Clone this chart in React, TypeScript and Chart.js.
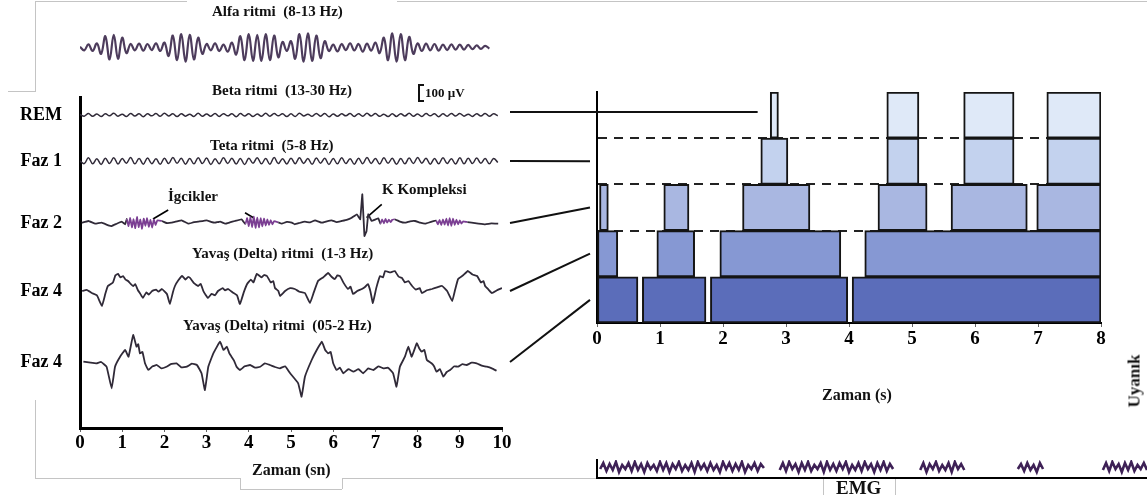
import React, { useEffect, useRef } from 'react';
import { Chart, registerables } from 'chart.js';

Chart.register(...registerables);

const SERIF = "'Liberation Serif', 'Times New Roman', Times, serif";

// ---------------- Left panel: EEG traces (time s, amplitude µV) ----------------
const eegTimeTicks = [0, 1, 2, 3, 4, 5, 6, 7, 8, 9, 10];
const eegStageLabels = ['REM', 'Faz 1', 'Faz 2', 'Faz 4', 'Faz 4'];

const alphaStep = 0.1;
const alphaValues = [5, -20, 22, -25, 30, -45, 80, -85, 90, -80, 70, -40, 25, -20, 28, -22, 25, -18, 30, -25, 35, -60, 85, -90, 95, -100, 90, -85, 70, -45, 25, -20, 30, -25, 20, -30, 35, -50, 80, -90, 95, -95, 90, -95, 95, -90, 85, -70, 40, -25, 45, -80, 95, -100, 100, -95, 85, -75, 45, -25, 20, -28, 25, -18, 30, -20, 25, -30, 28, -22, 35, -40, 70, -90, 100, -100, 95, -90, 75, -45, 30, -25, 28, -20, 25, -22, 20, -18, 22, -15, 20, -15, 18, -12, 15, -10, 12, -8];

const betaStep = 0.1;
const betaValues = [4, -8, 10, -9, 7, -11, 9, -6, 12, -8, 6, -10, 11, -7, 9, -12, 8, -6, 10, -9, 12, -7, 8, -11, 9, -8, 6, -10, 12, -9, 7, -8, 11, -10, 9, -6, 8, -12, 10, -7, 9, -11, 7, -9, 12, -8, 10, -6, 9, -11, 8, -10, 12, -7, 6, -9, 11, -8, 10, -12, 7, -9, 8, -6, 11, -10, 9, -8, 12, -7, 10, -9, 6, -11, 8, -10, 9, -7, 12, -8, 7, -11, 10, -6, 9, -12, 8, -9, 11, -7, 10, -8, 6, -10, 9, -7, 11, -9, 8, -5];

const tetaStep = 0.1;
const tetaValues = [0, -18, 22, -20, 16, -24, 19, -17, 23, -21, 18, -15, 24, -20, 17, -22, 21, -19, 15, -23, 20, -18, 25, -16, 19, -22, 17, -20, 23, -18, 21, -24, 16, -19, 22, -17, 20, -21, 18, -25, 19, -16, 23, -20, 17, -22, 24, -18, 16, -21, 20, -19, 22, -17, 18, -23, 21, -15, 19, -24, 17, -20, 23, -18, 16, -22, 20, -19, 25, -17, 18, -21, 22, -16, 19, -23, 17, -20, 21, -18, 24, -15, 20, -22, 18, -19, 23, -17, 16, -21, 22, -20, 19, -18, 21, -16, 17, -20, 18, -10];

const faz2Points: [number, number][] = [
  [0.04, 2], [0.2, 14], [0.36, -5], [0.51, 2], [0.67, -16], [0.75, -21], [0.87, -5], [0.99, 9], [1.07, -9],
  [1.11, 28], [1.15, -22], [1.19, 35], [1.23, -30], [1.27, 26], [1.31, -36], [1.35, 42], [1.39, -28], [1.43, 24], [1.47, -40], [1.51, 30], [1.55, -20], [1.59, 33], [1.63, -26], [1.67, 22], [1.71, -32], [1.75, 24], [1.79, -14], [1.83, 18],
  [1.94, 14], [2.05, 0], [2.17, 2], [2.3, 12], [2.41, 19], [2.57, -5], [2.68, 4], [2.8, 9], [3.0, 19], [3.1, 8], [3.2, 2], [3.32, 10], [3.44, -5], [3.55, 4], [3.67, 14], [3.83, 26],
  [3.92, -8], [3.96, 34], [4.0, -22], [4.04, 40], [4.08, -28], [4.12, 44], [4.16, -34], [4.2, 38], [4.24, -30], [4.28, 33], [4.32, -24], [4.36, 30], [4.4, -18], [4.44, 26], [4.48, -14], [4.52, 20], [4.56, -10], [4.6, 14],
  [4.7, 4], [4.78, -5], [4.9, 8], [5.02, 2], [5.09, -9], [5.2, 0], [5.33, 9], [5.45, 4], [5.57, 19], [5.73, 2], [5.85, 12], [5.96, 19], [6.08, 6], [6.2, 14], [6.32, 22], [6.44, 37], [6.56, 61], [6.64, 26], [6.69, 201], [6.74, -91], [6.79, -56], [6.83, 61], [6.91, 14], [7.07, 33],
  [7.12, -6], [7.16, 26], [7.2, -2], [7.24, 28], [7.28, 2], [7.32, 24], [7.36, 6], [7.4, 22],
  [7.46, 26], [7.58, 10], [7.7, 2], [7.82, 12], [7.94, 14], [8.06, 2], [8.18, -5], [8.3, 6],
  [8.44, 16], [8.48, -10], [8.52, 22], [8.56, -14], [8.6, 26], [8.64, -12], [8.68, 30], [8.72, -18], [8.76, 34], [8.8, -20], [8.84, 30], [8.88, -14], [8.92, 24], [8.96, -10], [9.0, 18], [9.04, -4], [9.08, 12],
  [9.18, 6], [9.28, 2], [9.44, -4], [9.6, -9], [9.75, -3], [9.91, -5],
];
const spindleRanges: [number, number][] = [[1.08, 1.86], [3.9, 4.62], [7.1, 7.44], [8.42, 9.1]];

const delta1Points: [number, number][] = [
  [0.05, 0], [0.16, 8], [0.28, -14], [0.4, -30], [0.52, -105], [0.6, -20], [0.66, 35], [0.78, 60], [0.84, 110], [0.9, 120], [0.96, 95], [1.02, 105], [1.08, 80], [1.14, 70], [1.2, 50], [1.26, 35], [1.31, 48], [1.37, 7], [1.43, -20], [1.49, -49], [1.57, -10], [1.63, -25], [1.71, 0], [1.8, 10], [1.86, -5], [1.94, 14], [2.06, -21], [2.13, -91], [2.2, -10], [2.25, 35], [2.33, 75], [2.42, 105], [2.5, 80], [2.56, 98], [2.61, 91], [2.7, 55], [2.8, 35], [2.86, 50], [2.93, -5], [3.03, -49], [3.12, -20], [3.2, -30], [3.27, 0], [3.38, 20], [3.44, 5], [3.51, 14], [3.62, -10], [3.72, -30], [3.79, -91], [3.88, -10], [3.96, 49], [4.05, 80], [4.11, 60], [4.19, 120], [4.3, 95], [4.36, 112], [4.43, 105], [4.52, 60], [4.58, 70], [4.62, 21], [4.7, 0], [4.74, -35], [4.86, 0], [4.98, 20], [5.09, 14], [5.2, -5], [5.33, -14], [5.45, -84], [5.54, -10], [5.64, 70], [5.76, 95], [5.88, 126], [5.96, 100], [6.04, 84], [6.1, 110], [6.16, 105], [6.25, 55], [6.35, 14], [6.41, 30], [6.47, -21], [6.57, 0], [6.68, 14], [6.76, 30], [6.82, 49], [6.88, 0], [6.94, -84], [7.02, 20], [7.11, 105], [7.18, 95], [7.23, 140], [7.35, 130], [7.46, 140], [7.55, 100], [7.63, 91], [7.7, 60], [7.78, 70], [7.87, 35], [7.96, 10], [8.05, 20], [8.1, -14], [8.22, 5], [8.34, 14], [8.46, 25], [8.58, 35], [8.7, 0], [8.82, -70], [8.89, 10], [8.96, 84], [9.08, 110], [9.19, 140], [9.3, 115], [9.41, 105], [9.5, 60], [9.56, 70], [9.6, 35], [9.68, 10], [9.76, -14], [9.88, 5], [10, 21],
];

const delta2Points: [number, number][] = [
  [0.08, 2], [0.25, -5], [0.39, -9], [0.5, 0], [0.63, -33], [0.75, -184], [0.83, -33], [0.95, 37], [1.07, 84], [1.15, 37], [1.26, 189], [1.34, 107], [1.38, 125], [1.42, 61], [1.48, 70], [1.54, -9], [1.62, -56], [1.72, -30], [1.82, -21], [1.93, -45], [2.05, -33], [2.15, -15], [2.29, -9], [2.4, -38], [2.53, -33], [2.65, -12], [2.77, -21], [2.88, -79], [2.96, -196], [3.04, -33], [3.16, 61], [3.32, 142], [3.4, 84], [3.48, 107], [3.54, 60], [3.59, 37], [3.65, 10], [3.71, -33], [3.79, -56], [3.9, -30], [4.03, -21], [4.15, -40], [4.27, -33], [4.38, -10], [4.5, -21], [4.62, -35], [4.74, -44], [4.86, -30], [4.98, -79], [5.17, -149], [5.25, -243], [5.33, -103], [5.49, 14], [5.61, 84], [5.73, 142], [5.81, 84], [5.88, 61], [5.94, 70], [6.0, -9], [6.08, -56], [6.16, -40], [6.24, -79], [6.36, -50], [6.48, -68], [6.6, -50], [6.71, -79], [6.83, -45], [6.95, -56], [7.07, -30], [7.19, -44], [7.3, -40], [7.42, -79], [7.5, -173], [7.58, -33], [7.7, 37], [7.78, 107], [7.86, 37], [7.98, 131], [8.04, 95], [8.1, 72], [8.16, 85], [8.22, 14], [8.33, -9], [8.39, -30], [8.45, -68], [8.53, -50], [8.61, -103], [8.69, -70], [8.77, -56], [8.87, -30], [8.96, -33], [9.06, -15], [9.16, -21], [9.28, -5], [9.4, -9], [9.52, -25], [9.64, -33], [9.76, -45], [9.87, -61],
];

// annotation pointer strokes in the Faz 2 row (time s, µV)
const igcikPointers: [number, number][][] = [
  [[1.73, 28], [2.09, 91]],
  [[3.91, 72], [4.11, 37]],
];
const kComplexPointer: [number, number][] = [[6.79, 37], [7.15, 131]];

// ---------------- Right panel: hypnogram (time s) ----------------
const hypnoTimeTicks = [0, 1, 2, 3, 4, 5, 6, 7, 8];
const hypnoLevels = ['REM', 'Faz 1', 'Faz 2', 'Faz 3', 'Faz 4'];
const remSegments: [number, number][] = [[2.75, 2.88], [4.6, 5.11], [5.82, 6.62], [7.14, 8]];
const faz1Segments: [number, number][] = [[2.6, 3.03], [4.6, 5.11], [5.82, 6.62], [7.14, 8]];
const faz2Segments: [number, number][] = [[0.04, 0.18], [1.06, 1.46], [2.31, 3.38], [4.46, 5.24], [5.62, 6.83], [6.98, 8]];
const faz3Segments: [number, number][] = [[0, 0.33], [0.95, 1.55], [1.95, 3.87], [4.25, 8]];
const faz4Segments: [number, number][] = [[0, 0.65], [0.72, 1.73], [1.8, 3.98], [4.05, 8]];

// ---------------- EMG strip (time s, amplitude) ----------------
const emgStep = 0.05;
const emgStarts = [0.05, 2.9, 5.13, 6.68, 8.03];
const emgSeg1 = [9, 15, 7, 14, 8, 16, 6, 13, 9, 15, 7, 16, 8, 14, 6, 15, 9, 13, 7, 16, 8, 15, 6, 14, 9, 16, 7, 13, 8, 15, 6, 16, 9, 14, 7, 15, 8, 13, 6, 16, 9, 15, 7, 14, 8, 16, 6, 13, 9, 15, 7, 14, 10];
const emgSeg2 = [8, 15, 7, 16, 9, 14, 6, 15, 8, 16, 7, 13, 9, 15, 6, 16, 8, 14, 7, 15, 9, 16, 6, 13, 8, 15, 7, 16, 9, 14, 6, 15, 8, 16, 7, 14, 9];
const emgSeg3 = [8, 15, 6, 14, 9, 16, 7, 13, 8, 15, 6, 16, 9, 14, 8];
const emgSeg4 = [9, 14, 7, 15, 8, 13, 6, 15, 9];
const emgSeg5 = [8, 15, 7, 16, 9, 14, 6, 15, 8, 16, 7, 13, 9, 15, 8];

// ---------------- layout / style constants ----------------
const EEG_Y_MAX = 2317;
const EEG_ROW_BASE = [2191, 1869, 1435, 959, 462];
const HYPNO_CANVAS_LEFT = 505;
const EMG_X_MAX = 8.73;
const levelColors = ['#dfe9f8', '#c3d2ee', '#a9b7e1', '#8698d3', '#5b6dba'];
const connectorEndTimes: (number | null)[] = [2.55, null, null, null, null];
const TRACE = '#302a38';
const SPINDLE = '#7b3f93';

const boldTick = (size: number) => ({ family: SERIF, size, weight: 'bold' as const });

export default function App() {
  const alphaRef = useRef<HTMLCanvasElement>(null);
  const eegRef = useRef<HTMLCanvasElement>(null);
  const hypRef = useRef<HTMLCanvasElement>(null);
  const emgRef = useRef<HTMLCanvasElement>(null);

  useEffect(() => {
    document.body.style.margin = '0';
    const charts: Chart[] = [];

    // Alpha rhythm (above the axes)
    charts.push(new Chart(alphaRef.current!, {
      type: 'line',
      data: {
        datasets: [{
          data: alphaValues.map((v, i) => ({ x: i * alphaStep, y: v })),
          borderColor: '#4d3c5c', borderWidth: 2.2, pointRadius: 0, tension: 0.4,
        }],
      },
      options: {
        animation: false, responsive: false,
        layout: { padding: { left: 80, right: 18, top: 32, bottom: 17 } },
        plugins: { legend: { display: false }, tooltip: { enabled: false } },
        scales: {
          x: { type: 'linear', min: 0, max: 10, display: false },
          y: { type: 'linear', min: -110, max: 110, display: false },
        },
      },
    }));

    const trace = (pts: [number, number][], row: number, extra: any = {}) => ({
      type: 'line' as const,
      data: pts.map(([x, v]) => ({ x, y: EEG_ROW_BASE[row] + v })),
      borderColor: TRACE, borderWidth: 1.8, pointRadius: 0, tension: 0.1, ...extra,
    });
    const fromSteps = (vals: number[], step: number): [number, number][] => vals.map((v, i) => [i * step, v]);
    const inSpindle = (x: number) => spindleRanges.some(([a, b]) => x >= a && x <= b);

    const eeg = new Chart(eegRef.current!, {
      type: 'line',
      data: {
        datasets: [
          trace(fromSteps(betaValues, betaStep), 0, { borderWidth: 1.5, tension: 0.4 }),
          trace(fromSteps(tetaValues, tetaStep), 1, { borderWidth: 1.5, tension: 0.4 }),
          trace(faz2Points, 2, {
            tension: 0.05,
            segment: { borderColor: (c: any) => (inSpindle(c.p0.parsed.x) ? SPINDLE : TRACE) },
          }),
          trace(delta1Points, 3),
          trace(delta2Points, 4),
          ...igcikPointers.map((p) => trace(p, 2, { borderColor: '#000', borderWidth: 1.6, tension: 0 })),
          trace(kComplexPointer, 2, { borderColor: '#000', borderWidth: 1.6, tension: 0 }),
        ],
      },
      options: {
        animation: false, responsive: false,
        layout: { padding: { left: 8, right: 18, top: 97, bottom: 27 } },
        plugins: { legend: { display: false }, tooltip: { enabled: false } },
        scales: {
          x: {
            type: 'linear', min: 0, max: 10,
            afterBuildTicks: (s: any) => { s.ticks = eegTimeTicks.map((v) => ({ value: v })); },
            afterFit: (s: any) => { s.height = 40; },
            ticks: { font: boldTick(19), color: '#000', padding: 0, maxRotation: 0, autoSkip: false },
            grid: { drawOnChartArea: false, drawTicks: true, tickLength: 4, color: '#666' },
            border: { color: '#000', width: 3 },
          },
          y: {
            type: 'linear', min: 0, max: EEG_Y_MAX,
            afterBuildTicks: (s: any) => { s.ticks = EEG_ROW_BASE.map((v) => ({ value: v })); },
            afterFit: (s: any) => { s.width = 72; },
            ticks: {
              callback: (_v: any, i: number) => eegStageLabels[i],
              font: boldTick(18), color: '#000', padding: 18, autoSkip: false,
            },
            grid: { display: false, drawTicks: false },
            border: { color: '#000', width: 3 },
          },
        },
      },
    });
    charts.push(eeg);

    const connectorPlugin = {
      id: 'stageConnectors',
      afterDatasetsDraw(chart: any) {
        const { ctx, chartArea } = chart;
        const xs = chart.scales.x;
        const ys = chart.scales.y;
        const startX = eeg.scales.x.getPixelForValue(10) + 8 - HYPNO_CANVAS_LEFT;
        ctx.save();
        ctx.strokeStyle = '#111';
        ctx.lineWidth = 2;
        EEG_ROW_BASE.forEach((rowVal, i) => {
          const y0 = eeg.scales.y.getPixelForValue(rowVal);
          const y1 = ys.getPixelForValue(i);
          const end = connectorEndTimes[i];
          const x1 = end != null ? xs.getPixelForValue(end) : chartArea.left - 7;
          ctx.beginPath();
          ctx.moveTo(startX, end != null ? y1 - 3 : y0);
          ctx.lineTo(x1, end != null ? y1 - 3 : y1);
          ctx.stroke();
        });
        ctx.restore();
      },
    };

    const levelSegments = [remSegments, faz1Segments, faz2Segments, faz3Segments, faz4Segments];
    const nCols = Math.max(...levelSegments.map((s) => s.length));
    const barSets = Array.from({ length: nCols }, (_, c) => ({
      data: levelSegments.map((segs) => (segs[c] ? segs[c] : null)),
      backgroundColor: levelColors,
      borderColor: '#141414',
      borderWidth: 2,
      borderSkipped: false,
      grouped: false,
      categoryPercentage: 1,
      barPercentage: 1,
    }));

    charts.push(new Chart(hypRef.current!, {
      type: 'bar',
      data: { labels: hypnoLevels, datasets: barSets as any },
      options: {
        animation: false, responsive: false, indexAxis: 'y',
        layout: { padding: { left: 92, right: 46, top: 92, bottom: 142 } },
        plugins: { legend: { display: false }, tooltip: { enabled: false } },
        scales: {
          x: {
            type: 'linear', min: 0, max: 8,
            afterBuildTicks: (s: any) => { s.ticks = hypnoTimeTicks.map((v) => ({ value: v })); },
            afterFit: (s: any) => { s.height = 30; },
            ticks: { font: boldTick(19), color: '#000', padding: 1, maxRotation: 0, autoSkip: false },
            grid: { drawOnChartArea: false, drawTicks: true, tickLength: 4, color: '#666' },
            border: { color: '#000', width: 2 },
          },
          y: {
            type: 'category',
            afterFit: (s: any) => { s.width = 0; },
            ticks: { display: false },
            grid: {
              offset: true, drawTicks: false, lineWidth: 2,
              color: (c: any) => ([1, 2, 3].includes(c.index) ? '#222' : 'rgba(0,0,0,0)'),
            },
            border: { color: '#000', width: 2, dash: [9, 7] },
          },
        },
      },
      plugins: [connectorPlugin],
    }));

    const emgSegs = [emgSeg1, emgSeg2, emgSeg3, emgSeg4, emgSeg5];
    charts.push(new Chart(emgRef.current!, {
      type: 'line',
      data: {
        datasets: emgSegs.map((vals, k) => ({
          data: vals.map((v, i) => ({ x: emgStarts[k] + i * emgStep, y: v })),
          borderColor: '#3e2156', borderWidth: 2.6, pointRadius: 0, tension: 0,
        })),
      },
      options: {
        animation: false, responsive: false,
        layout: { padding: { left: 92, right: 0, top: 20, bottom: 17 } },
        plugins: { legend: { display: false }, tooltip: { enabled: false } },
        scales: {
          x: {
            type: 'linear', min: 0, max: EMG_X_MAX,
            afterFit: (s: any) => { s.height = 0; },
            ticks: { display: false }, grid: { display: false },
            border: { color: '#000', width: 2 },
          },
          y: {
            type: 'linear', min: 0, max: 18,
            afterFit: (s: any) => { s.width = 0; },
            ticks: { display: false }, grid: { display: false },
            border: { color: '#000', width: 2 },
          },
        },
      },
    }));

    return () => charts.forEach((c) => c.destroy());
  }, []);

  const txt = (s: string, left: number, top: number, size: number, extra: React.CSSProperties = {}) => (
    <div style={{
      position: 'absolute', left, top, fontFamily: SERIF, fontWeight: 'bold', fontSize: size,
      lineHeight: 1, whiteSpace: 'pre', color: '#111', ...extra,
    }}>{s}</div>
  );
  const frame = (left: number, top: number, width: number, height: number) => (
    <div style={{ position: 'absolute', left, top, width, height, background: '#c4c4c4' }} />
  );

  return (
    <div style={{ position: 'fixed', left: 0, top: 0, width: 1147, height: 495, background: '#fff', overflow: 'hidden' }}>
      {frame(35, 1, 152, 1)}
      {frame(397, 1, 750, 1)}
      {frame(35, 1, 1, 90)}
      {frame(8, 91, 28, 1)}
      {frame(35, 400, 1, 78)}
      {frame(35, 478, 205, 1)}
      {frame(240, 478, 1, 11)}
      {frame(240, 489, 102, 1)}
      {frame(342, 478, 1, 11)}
      {frame(342, 478, 481, 1)}
      {frame(823, 478, 1, 17)}
      {frame(895, 478, 1, 17)}
      {frame(895, 478, 252, 1)}
      <canvas ref={eegRef} width={520} height={495} style={{ position: 'absolute', left: 0, top: 0 }} />
      <canvas ref={alphaRef} width={520} height={80} style={{ position: 'absolute', left: 0, top: 0 }} />
      <canvas ref={hypRef} width={642} height={495} style={{ position: 'absolute', left: HYPNO_CANVAS_LEFT, top: 0 }} />
      <canvas ref={emgRef} width={642} height={55} style={{ position: 'absolute', left: HYPNO_CANVAS_LEFT, top: 440 }} />
      {txt('Alfa ritmi  (8-13 Hz)', 212, 4, 15)}
      {txt('Beta ritmi  (13-30 Hz)', 212, 83, 15)}
      <div style={{ position: 'absolute', left: 418, top: 84, width: 4, height: 14, borderLeft: '2px solid #111', borderTop: '2px solid #111', borderBottom: '2px solid #111' }} />
      {txt('100 µV', 425, 86, 13)}
      {txt('Teta ritmi  (5-8 Hz)', 210, 138, 15)}
      {txt('İgcikler', 168, 189, 15)}
      {txt('K Kompleksi', 382, 182, 15)}
      {txt('Yavaş (Delta) ritmi  (1-3 Hz)', 192, 246, 15)}
      {txt('Yavaş (Delta) ritmi  (05-2 Hz)', 183, 318, 15)}
      {txt('Zaman (sn)', 252, 462, 16)}
      {txt('Zaman (s)', 822, 387, 16)}
      {txt('EMG', 836, 478, 19)}
      {txt('Uyanık', 1134, 381, 17, { transform: 'translate(-50%, -50%) rotate(-90deg)' })}
    </div>
  );
}
